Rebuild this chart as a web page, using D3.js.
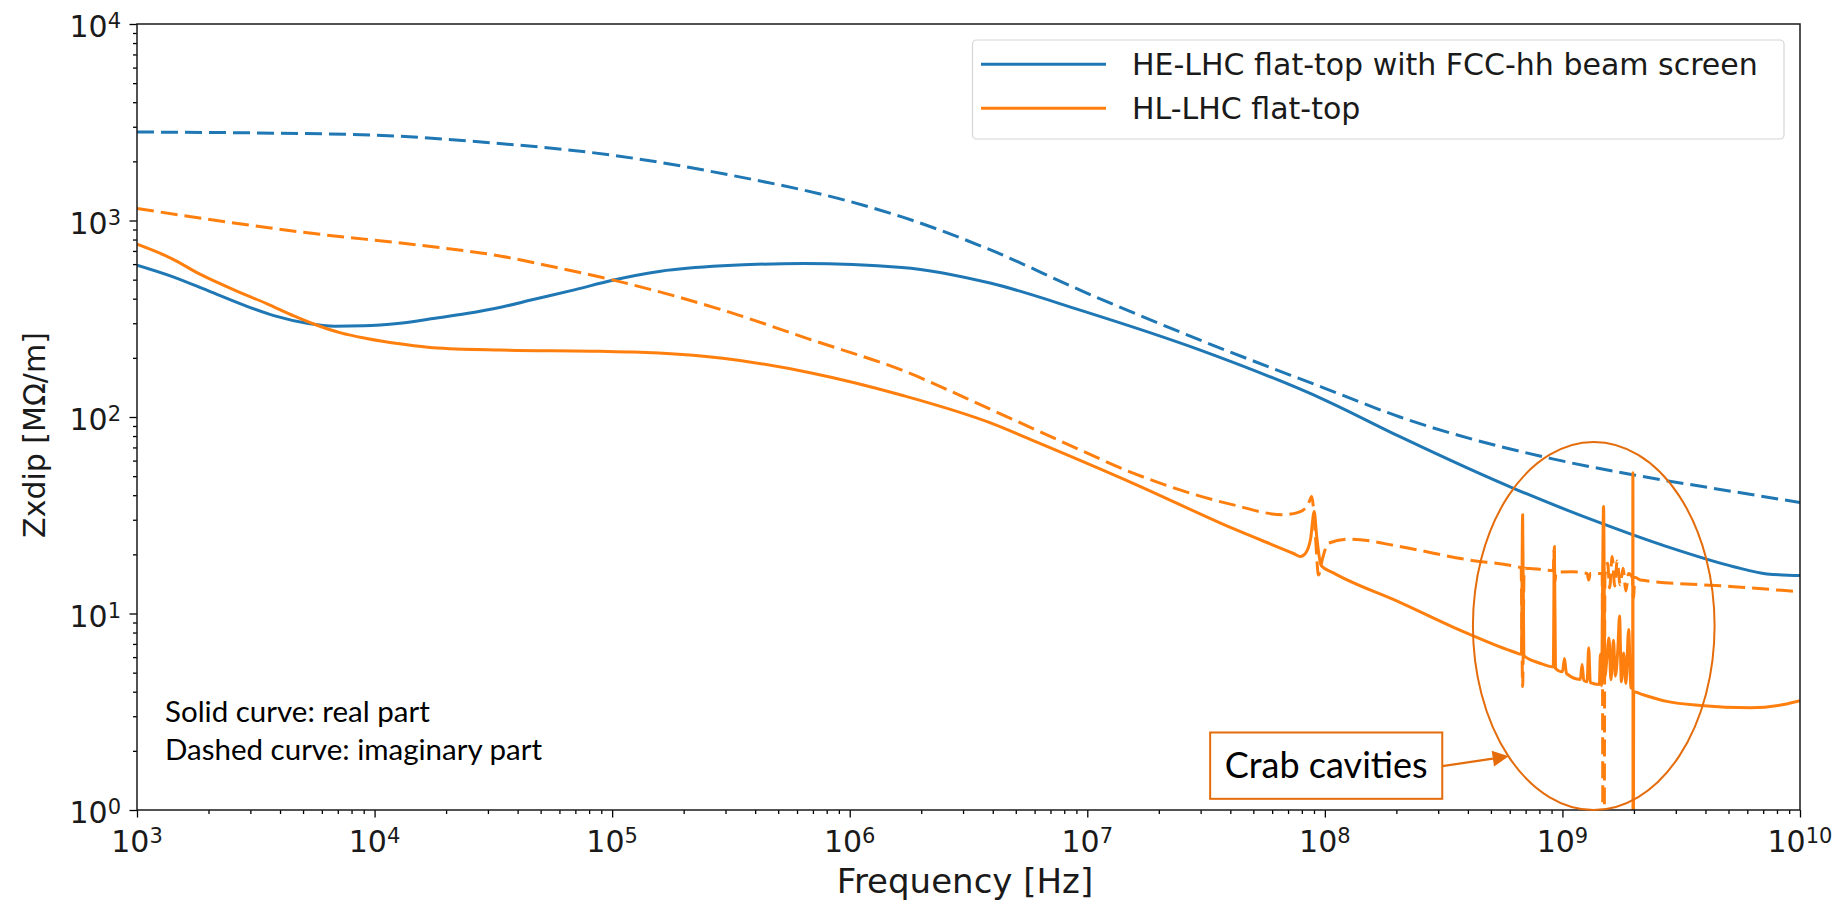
<!DOCTYPE html>
<html>
<head>
<meta charset="utf-8">
<script src="https://cdn.jsdelivr.net/npm/d3@7"></script>
<style>
  html, body { margin: 0; padding: 0; background: #fff; }
  svg { display: block; }
</style>
</head>
<body>
<svg id="chart" width="1842" height="900"></svg>
<script>
// ---------------- DATA (frequency [Hz], |Z| [MOhm/m]) ----------------
const seriesNames = ["HE-LHC flat-top with FCC-hh beam screen", "HL-LHC flat-top"];
const seriesColors = ["#1f77b4", "#ff7f0e"];

// HE-LHC, real part (solid blue)
const heReal = [
  [1e3, 593], [1.4e3, 520], [2.0e3, 438], [2.8e3, 372], [3.8e3, 327],
  [5.2e3, 300], [6.8e3, 290], [9.0e3, 291], [1.28e4, 300], [1.8e4, 318],
  [2.44e4, 336], [3.4e4, 362], [4.65e4, 396], [7e4, 445], [9.93e4, 495],
  [1.6e5, 552], [2.92e5, 588], [6.4e5, 604], [1.66e6, 577], [3.94e6, 479],
  [9.33e6, 350], [2.99e7, 219], [1e8, 122], [2.07e8, 79.4], [6.44e8, 42.6],
  [1.445e9, 28.9], [2.75e9, 21.9], [5.26e9, 17.3], [7.26e9, 15.9], [1e10, 15.6]
];
// HE-LHC, imaginary part (dashed blue)
const heImag = [
  [1e3, 2820], [3.16e3, 2790], [1e4, 2720], [3.16e4, 2480], [1e5, 2150],
  [3.16e5, 1700], [1e6, 1250], [1.66e6, 1043], [3.94e6, 706], [9.33e6, 442],
  [2.99e7, 246], [1e8, 140], [2.07e8, 100], [8.89e8, 61.6], [2.0e9, 50.7],
  [5.26e9, 41.7], [1e10, 36.7]
];
// HL-LHC, real part (solid orange) incl. resonances (crab cavities)
const hlReal = [
  [1e3, 757], [1.4e3, 640], [1.84e3, 533], [2.6e3, 440], [3.51e3, 378],
  [4.6e3, 326], [5.69e3, 294], [7.2e3, 268], [9.25e3, 251], [1.3e4, 235],
  [1.76e4, 225], [3.37e4, 219], [8.87e4, 216], [1.23e5, 214], [2.92e5, 199],
  [6.97e5, 167], [1.66e6, 129], [3.94e6, 93], [5.75e6, 77], [1.56e7, 46],
  [4.12e7, 27.0], [7.38e7, 20.2], [7.9e7, 19.5], [8.3e7, 20.3], [8.71e7, 24],
  [9.02e7, 33], [9.23e7, 25], [9.66e7, 17.5], [1.086e8, 16.1], [2.07e8, 11.4],
  [3.96e8, 7.94], [6.3e8, 6.35], [6.72e8, 6.2], [6.8e8, 31.8], [6.88e8, 6.1],
  [8.0e8, 5.6], [9.15e8, 5.35], [9.25e8, 21.9], [9.35e8, 5.25], [1.0e9, 5.05],
  [1.02e9, 5.9], [1.04e9, 4.95], [1.19e9, 4.62], [1.21e9, 5.5], [1.23e9, 4.57],
  [1.27e9, 4.5], [1.29e9, 6.7], [1.31e9, 4.45], [1.43e9, 4.35], [1.445e9, 6.2],
  [1.46e9, 4.3], [1.49e9, 35], [1.51e9, 4.8], [1.54e9, 6.0], [1.57e9, 7.5],
  [1.6e9, 4.6], [1.64e9, 7.3], [1.67e9, 4.8], [1.71e9, 6.5], [1.74e9, 9.7],
  [1.77e9, 4.5], [1.81e9, 6.3], [1.85e9, 4.4], [1.9e9, 8.3], [1.94e9, 4.2],
  [1.975e9, 4.15], [1.98e9, 52], [1.985e9, 0.01], [1.995e9, 4.0], [2.13e9, 3.9],
  [2.75e9, 3.57], [3.81e9, 3.4], [6.18e9, 3.31], [8.53e9, 3.44], [1e10, 3.6]
];
// HL-LHC, imaginary part (dashed orange)
const hlImag = [
  [1e3, 1151], [4.84e3, 875], [1.76e4, 735], [3.37e4, 660], [5.5e4, 585],
  [9.93e4, 500], [2.92e5, 350], [6.97e5, 246], [1.66e6, 173], [3.94e6, 109],
  [9.33e6, 68], [1.56e7, 51.8], [4.12e7, 35.7], [6.68e7, 31.8], [7.89e7, 33],
  [8.51e7, 36], [8.81e7, 39.4], [9.12e7, 25], [9.4e7, 15.7], [9.77e7, 19],
  [1.035e8, 22.8], [1.28e8, 23.9], [2.07e8, 21.9], [3.96e8, 18.8],
  [6.44e8, 17.3], [6.7e8, 17.1], [6.8e8, 4.25], [6.9e8, 17.0], [8.0e8, 16.8],
  [9.15e8, 16.5], [9.22e8, 21], [9.3e8, 14.5], [9.4e8, 16.2], [1.1e9, 16.3],
  [1.27e9, 16.0], [1.29e9, 14.8], [1.31e9, 16.0], [1.47e9, 16.0],
  [1.49e9, 0.01], [1.51e9, 15.5], [1.55e9, 18], [1.58e9, 13.5], [1.62e9, 19.5],
  [1.66e9, 13.8], [1.7e9, 18.5], [1.75e9, 14], [1.8e9, 17], [1.85e9, 13],
  [1.9e9, 16], [1.97e9, 15.2], [1.99e9, 12], [2.02e9, 15.3], [2.13e9, 14.8],
  [5.26e9, 13.7], [1e10, 12.9]
];

const xMajorTicks = [1e3, 1e4, 1e5, 1e6, 1e7, 1e8, 1e9, 1e10];
const xTickExponents = ["3", "4", "5", "6", "7", "8", "9", "10"];
const yMajorTicks = [1, 10, 100, 1000, 10000];
const yTickExponents = ["0", "1", "2", "3", "4"];

const xLabel = "Frequency [Hz]";
const yLabel = "Zxdip [MΩ/m]";
const noteLines = ["Solid curve: real part", "Dashed curve: imaginary part"];
const calloutText = "Crab cavities";

// ---------------- LAYOUT ----------------
const svg = d3.select("#chart");
const plot = { left: 137, right: 1800, top: 24, bottom: 810 };
const x = d3.scaleLog().domain([1e3, 1e10]).range([plot.left, plot.right]);
const y = d3.scaleLog().domain([1, 1e4]).range([plot.bottom, plot.top]);

const tickFont = "'DejaVu Sans', sans-serif";
const noteFont = "Lato, 'Open Sans', sans-serif";
const annotColor = "#e46c0a";

svg.append("defs").append("clipPath").attr("id", "clip")
  .append("rect").attr("x", plot.left).attr("y", plot.top)
  .attr("width", plot.right - plot.left).attr("height", plot.bottom - plot.top);

const minor = (lo, hi) => {
  const out = [];
  for (let e = lo; e < hi; e++) for (let m = 2; m <= 9; m++) out.push(m * Math.pow(10, e));
  return out;
};

// Axes
const gx = svg.append("g").attr("transform", `translate(0,${plot.bottom})`);
gx.call(d3.axisBottom(x).tickValues(xMajorTicks).tickSize(7.5).tickFormat(""));
gx.append("g").call(d3.axisBottom(x).tickValues(minor(3, 10)).tickSize(4).tickFormat(""));
const gy = svg.append("g").attr("transform", `translate(${plot.left},0)`);
gy.call(d3.axisLeft(y).tickValues(yMajorTicks).tickSize(7.5).tickFormat(""));
gy.append("g").call(d3.axisLeft(y).tickValues(minor(0, 4)).tickSize(4).tickFormat(""));
svg.selectAll(".domain").remove();
svg.selectAll(".tick line").attr("stroke", "#000").attr("stroke-width", 1.3);

// Tick labels with superscripts
xMajorTicks.forEach((v, i) => {
  const t = svg.append("text").attr("x", x(v)).attr("y", 852)
    .attr("text-anchor", "middle").attr("font-family", tickFont)
    .attr("font-size", 30).attr("fill", "#1a1a1a");
  t.append("tspan").text("10");
  t.append("tspan").attr("dy", -9).attr("font-size", 21).text(xTickExponents[i]);
});
yMajorTicks.forEach((v, i) => {
  const t = svg.append("text").attr("x", 121).attr("y", y(v) + 13)
    .attr("text-anchor", "end").attr("font-family", tickFont)
    .attr("font-size", 30).attr("fill", "#1a1a1a");
  t.append("tspan").text("10");
  t.append("tspan").attr("dy", -9).attr("font-size", 21).text(yTickExponents[i]);
});

// Axis labels
svg.append("text").attr("x", 965).attr("y", 893).attr("text-anchor", "middle")
  .attr("font-family", tickFont).attr("font-size", 34).attr("fill", "#1a1a1a").text(xLabel);
svg.append("text").attr("transform", `translate(45,435) rotate(-90)`).attr("text-anchor", "middle")
  .attr("font-family", tickFont).attr("font-size", 30).attr("fill", "#1a1a1a").text(yLabel);

// Curves
const line = d3.line()
  .x(d => x(d[0]))
  .y(d => y(d[1]))
  .curve(d3.curveMonotoneX);
const curves = svg.append("g").attr("clip-path", "url(#clip)");
const drawCurve = (data, color, dashed) => curves.append("path")
  .datum(data).attr("d", line).attr("fill", "none")
  .attr("stroke", color).attr("stroke-width", 3)
  .attr("stroke-linejoin", "round")
  .attr("stroke-dasharray", dashed ? "17,7" : null);
drawCurve(heReal, seriesColors[0], false);
drawCurve(heImag, seriesColors[0], true);
drawCurve(hlReal, seriesColors[1], false);
drawCurve(hlImag, seriesColors[1], true);

// Frame
svg.append("rect").attr("x", plot.left).attr("y", plot.top)
  .attr("width", plot.right - plot.left).attr("height", plot.bottom - plot.top)
  .attr("fill", "none").attr("stroke", "#1a1a1a").attr("stroke-width", 1.5);

// Legend
const lg = svg.append("g");
lg.append("rect").attr("x", 972.5).attr("y", 40).attr("width", 811.5).attr("height", 99)
  .attr("rx", 4).attr("fill", "#fff").attr("fill-opacity", 0.8)
  .attr("stroke", "#d6d6d6").attr("stroke-width", 1.2);
seriesNames.forEach((name, i) => {
  const cy = 64.3 + i * 44;
  lg.append("line").attr("x1", 981).attr("x2", 1106).attr("y1", cy).attr("y2", cy)
    .attr("stroke", seriesColors[i]).attr("stroke-width", 3);
  lg.append("text").attr("x", 1132).attr("y", cy + 10.5)
    .attr("font-family", tickFont).attr("font-size", 30).attr("fill", "#1a1a1a").text(name);
});

// Notes
noteLines.forEach((s, i) => {
  svg.append("text").attr("x", 165).attr("y", 722 + i * 38)
    .attr("font-family", noteFont).attr("font-size", 29.5).attr("fill", "#000")
    .text(s);
});

// Crab-cavity annotation: ellipse (in data coords), box and arrow
const ellF = [4.2e8, 4.37e9], ellZ = [1, 74.6];
const ex0 = x(ellF[0]), ex1 = x(ellF[1]), ey0 = y(ellZ[1]), ey1 = y(ellZ[0]);
svg.append("ellipse").attr("cx", (ex0 + ex1) / 2).attr("cy", (ey0 + ey1) / 2)
  .attr("rx", (ex1 - ex0) / 2).attr("ry", (ey1 - ey0) / 2)
  .attr("fill", "none").attr("stroke", annotColor).attr("stroke-width", 2);

const boxF = [3.29e7, 3.12e8], boxZ = [1.14, 2.48];
const bx0 = x(boxF[0]), bx1 = x(boxF[1]), by0 = y(boxZ[1]), by1 = y(boxZ[0]);
svg.append("rect").attr("x", bx0).attr("y", by0).attr("width", bx1 - bx0).attr("height", by1 - by0)
  .attr("fill", "#fff").attr("stroke", annotColor).attr("stroke-width", 2);
svg.append("text").attr("x", (bx0 + bx1) / 2).attr("y", by0 + 46)
  .attr("text-anchor", "middle").attr("font-family", noteFont).attr("font-size", 36)
  .attr("fill", "#000").text(calloutText);

const tip = [x(5.94e8), y(1.877)];
const start = [bx1, (by0 + by1) / 2 + 0.5];
const ang = Math.atan2(tip[1] - start[1], tip[0] - start[0]);
const headLen = 16, headW = 8;
const hb = [tip[0] - headLen * Math.cos(ang), tip[1] - headLen * Math.sin(ang)];
svg.append("line").attr("x1", start[0]).attr("y1", start[1]).attr("x2", hb[0]).attr("y2", hb[1])
  .attr("stroke", annotColor).attr("stroke-width", 2.2);
svg.append("path").attr("d",
  `M${tip[0]},${tip[1]} L${hb[0] - headW * Math.sin(ang)},${hb[1] + headW * Math.cos(ang)} L${hb[0] + headW * Math.sin(ang)},${hb[1] - headW * Math.cos(ang)} Z`)
  .attr("fill", annotColor);
</script>
</body>
</html>
